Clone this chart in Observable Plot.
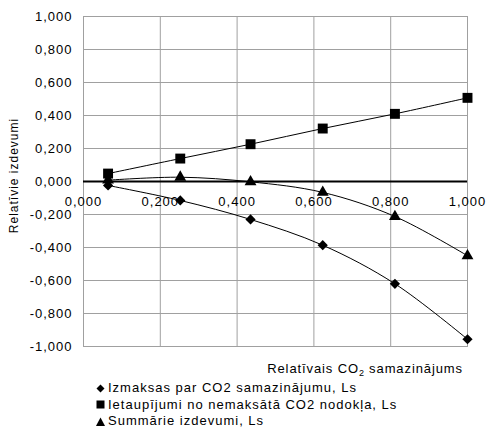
<!DOCTYPE html>
<html>
<head>
<meta charset="utf-8">
<script src="https://cdn.jsdelivr.net/npm/d3@7"></script>
<script src="https://cdn.jsdelivr.net/npm/@observablehq/plot@0.6"></script>
<style>
  html, body { margin: 0; padding: 0; background: #fff; }
  body { font-family: "Liberation Sans", Arial, sans-serif; color: #000; }
  #wrap { position: relative; width: 486px; height: 438px; }
  #chart { position: absolute; left: 0; top: 0; }
  #xlabel { position: absolute; left: 0; width: 463px; top: 359px; text-align: right; font-size: 13px; letter-spacing: 0.9px; line-height: 20px; }
  #xlabel sub { font-size: 9px; vertical-align: -3px; line-height: 0; letter-spacing: 0.5px; }
  #legend { position: absolute; left: 95px; top: 380px; font-size: 13px; letter-spacing: 1px; }
  .item { height: 16.5px; line-height: 16.5px; display: flex; align-items: center; }
  .item svg { width: 11px; height: 11px; margin-right: 2px; }
</style>
</head>
<body>
<div id="wrap">
  <div id="chart"></div>
  <div id="xlabel">Relatīvais CO<sub>2</sub> samazinājums</div>
  <div id="legend"></div>
</div>
<script>
const xValues = [0.064, 0.252, 0.435, 0.623, 0.811, 1.0];
const costs   = [-0.024, -0.115, -0.230, -0.386, -0.620, -0.956];   // Izmaksas par CO2 samazinājumu
const savings = [0.048, 0.139, 0.226, 0.321, 0.410, 0.507];          // Ietaupījumi no nemaksātā CO2 nodokļa
const totals  = [0.008, 0.026, -0.002, -0.066, -0.212, -0.450];      // Summārie izdevumi
const xTicks = [0, 0.2, 0.4, 0.6, 0.8, 1.0];
const yTicks = [-1, -0.8, -0.6, -0.4, -0.2, 0, 0.2, 0.4, 0.6, 0.8, 1.0];
const seriesNames = ["Izmaksas par CO2 samazinājumu, Ls", "Ietaupījumi no nemaksātā CO2 nodokļa, Ls", "Summārie izdevumi, Ls"];
const seriesSymbols = ["diamond2", "square", "triangle"];
const yLabel = "Relatīvie izdevumi";

const fmt = d => (d < 0 ? "-" : "") + Math.abs(d).toFixed(3).replace(".", ",");

const seriesValues = [costs, savings, totals];
const data = seriesValues.flatMap((vals, i) => vals.map((v, j) => ({series: seriesNames[i], symbol: seriesSymbols[i], x: xValues[j], y: v})));

const plot = Plot.plot({
  width: 486,
  height: 356,
  marginTop: 16,
  marginLeft: 83,
  marginRight: 19,
  marginBottom: 10,
  style: {fontFamily: "Liberation Sans, Arial, sans-serif", fontSize: "13px", background: "#fff", color: "#000", letterSpacing: "1px", overflow: "visible"},
  x: {domain: [0, 1], axis: null},
  y: {domain: [-1, 1], axis: null},
  marks: [
    Plot.gridX(xTicks, {stroke: "#a0a0a0", strokeOpacity: 1, strokeWidth: 1}),
    Plot.gridY(yTicks, {stroke: "#a0a0a0", strokeOpacity: 1, strokeWidth: 1}),
    Plot.frame({stroke: "#a0a0a0"}),
    Plot.ruleY([0], {stroke: "#000", strokeWidth: 2}),
    Plot.axisY(yTicks, {tickSize: 0, tickPadding: 11, tickFormat: fmt, label: null, fontSize: 13}),
    Plot.text(xTicks, {x: d => d, y: () => 0, dy: 20, text: fmt, fontSize: 13}),
    Plot.text([yLabel], {frameAnchor: "left", textAnchor: "middle", dx: -69, dy: -6, rotate: -90, text: d => d, fontSize: 12}),
    Plot.line(data, {x: "x", y: "y", z: "series", stroke: "#000", strokeWidth: 1, curve: "catmull-rom"}),
    Plot.dot(data.filter(d => d.symbol === "triangle"), {x: "x", y: "y", symbol: () => "triangle", fill: "#000", stroke: "none", r: 4.4}),
    Plot.dot(data.filter(d => d.symbol === "diamond2"), {x: "x", y: "y", symbol: () => "diamond2", fill: "#000", stroke: "none", r: 4.6}),
    Plot.dot(data.filter(d => d.symbol === "square"), {x: "x", y: "y", symbol: () => "square", fill: "#000", stroke: "none", r: 5.6})
  ]
});
document.getElementById("chart").appendChild(plot);

const shapes = {
  diamond2: '<polygon points="5.5,1.5 9.5,5.5 5.5,9.5 1.5,5.5" fill="#000"/>',
  square: '<rect x="1.5" y="1.5" width="8" height="8" fill="#000"/>',
  triangle: '<polygon points="5.5,1.5 10,10 1,10" fill="#000"/>'
};
const legend = document.getElementById("legend");
seriesNames.forEach((name, i) => {
  const div = document.createElement("div");
  div.className = "item";
  div.innerHTML = `<svg viewBox="0 0 11 11">${shapes[seriesSymbols[i]]}</svg><span></span>`;
  div.querySelector("span").textContent = name;
  legend.appendChild(div);
});
</script>
</body>
</html>
